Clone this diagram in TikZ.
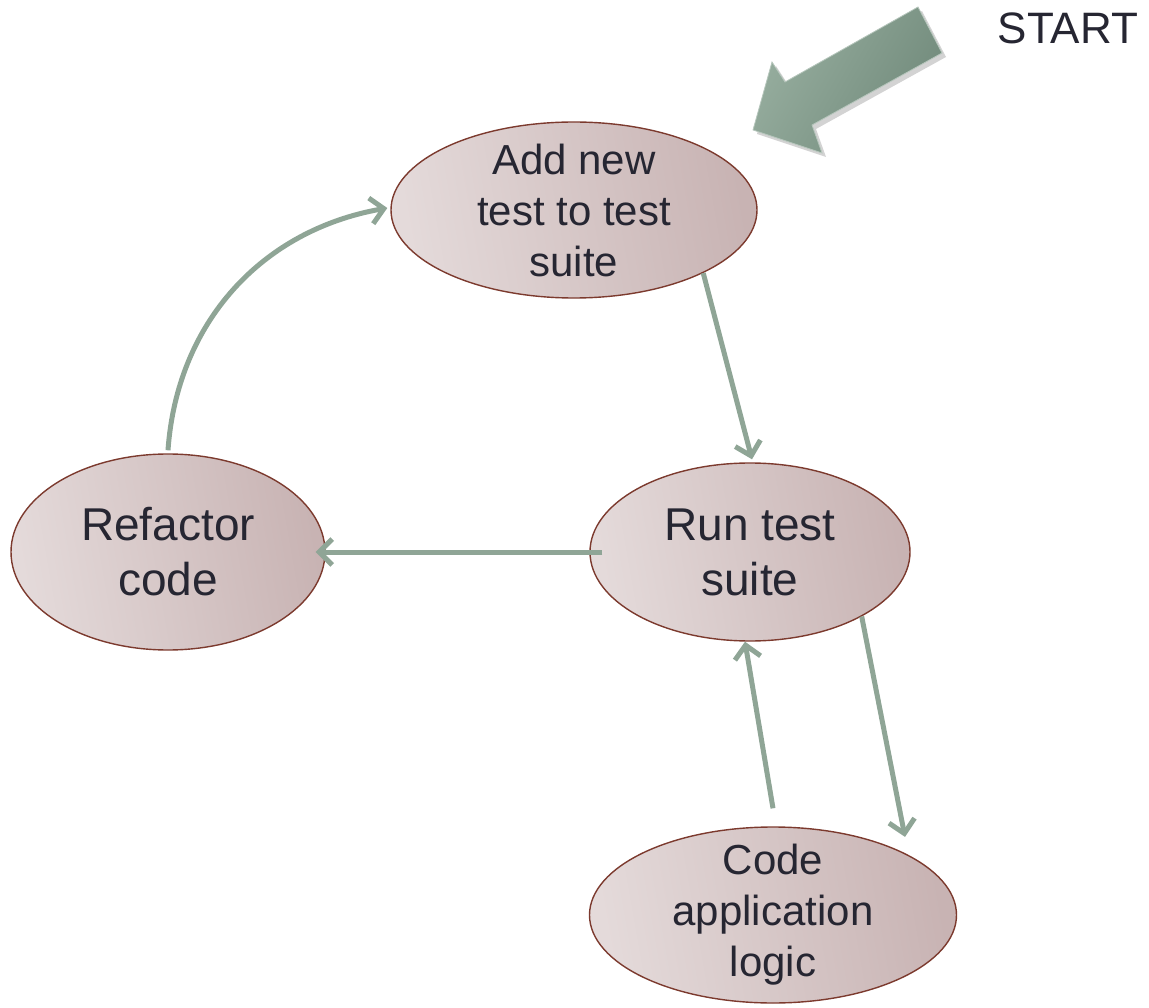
\documentclass[tikz,border=0pt]{standalone}
\usepackage{fontspec}
\setmainfont{Liberation Sans}
\usetikzlibrary{arrows.meta,shapes.geometric,shadows}
\definecolor{lgreen}{HTML}{8FA596}
\definecolor{agreenL}{HTML}{97AE9F}
\definecolor{agreenR}{HTML}{718A7B}
\definecolor{ellL}{HTML}{E4DADA}
\definecolor{ellR}{HTML}{C8B3B3}
\definecolor{ellB}{HTML}{7C3A2E}
\definecolor{txt}{HTML}{262632}
\begin{document}
\begin{tikzpicture}[x=1pt,y=1pt]
\tikzstyle{st}=[ellipse,draw=ellB,line width=1.4pt,left color=ellL,right color=ellR,shading angle=100]
\tikzstyle{tx}=[text=txt,align=center,inner sep=0pt]
\tikzstyle{ar}=[draw=lgreen,line width=5pt,-{Straight Barb[length=13pt,width=26pt]}]
\useasboundingbox (0,0) rectangle (1149,-1008);
\node[st,minimum width=366pt,minimum height=176pt] (a) at (574,-210) {};
\node[tx,font=\fontsize{42}{51}\selectfont] (at) at (a) {Add new\\test to test\\suite};
\node[st,minimum width=320pt,minimum height=178pt] (r) at (750,-552) {};
\node[tx,font=\fontsize{46}{55}\selectfont] (rt) at (r) {Run test\\suite};
\node[st,minimum width=314pt,minimum height=196pt] (f) at (168,-552) {};
\node[tx,font=\fontsize{46}{55}\selectfont] (ft) at (f) {Refactor\\code};
\node[st,minimum width=367pt,minimum height=176pt] (c) at (773,-915) {};
\node[tx,font=\fontsize{42}{51}\selectfont] (ct) at (c) {Code\\application\\logic};
\node[tx,font=\fontsize{44}{50}\selectfont] (s) at (1068,-28) {START};
% big start arrow
\path[draw=agreenL!70!white,line width=0.8pt,left color=agreenL,right color=agreenR,shading angle=60,
  drop shadow={shadow xshift=4pt,shadow yshift=-4pt,opacity=0.35}]
  (918,-7) -- (942,-53) -- (812,-125) -- (822,-153) -- (753,-130) -- (772,-62) -- (785,-82) -- cycle;
% cycle arrows
\draw[ar] (a.-26) -- ([xshift=2pt,yshift=3pt]r.north);
\draw[ar] ([xshift=13pt]r.west) -- ([xshift=-10pt]f.east);
\draw[ar] ([yshift=3pt]f.north) to[out=86,in=190] ([xshift=-3pt,yshift=2pt]a.west);
\draw[ar] ([yshift=18pt]c.north) -- ([xshift=-5pt]r.south);
\draw[ar] (r.-30) -- ([xshift=14pt,yshift=10pt]c.30);
\end{tikzpicture}
\end{document}
